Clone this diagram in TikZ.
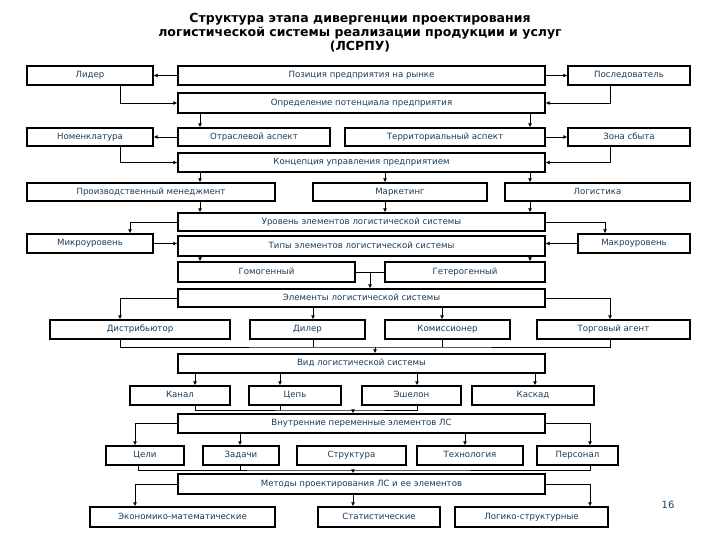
\documentclass[tikz,border=0pt]{standalone}
\usepackage{fontspec}
\setmainfont{DejaVu Sans}
\usetikzlibrary{arrows.meta}
\definecolor{txt}{RGB}{25,60,90}
\begin{document}
\begin{tikzpicture}[x=1pt,y=-1pt,
  bx/.style={draw,line width=1.3pt,fill=white,text=txt,font=\fontsize{8.6}{9}\selectfont,inner sep=0pt,text height=6.5pt,text depth=1.8pt},
  ar/.style={line width=0.8pt,-{Latex[length=4pt,width=4pt]}},
  ln/.style={line width=0.8pt}]
\useasboundingbox (0,0) rectangle (720,540);
\newcommand\bb[6]{\node[bx,minimum width=#4-#2,minimum height=#5-#3] (#1) at ({(#2+#4)/2},{(#3+#5)/2}) {#6};}
\node[font=\bfseries\fontsize{12.5}{14}\selectfont,align=center] (title) at (360,33) {Структура этапа дивергенции проектирования\\логистической системы реализации продукции и услуг\\(ЛСРПУ)};
\bb{lid}{27}{66}{153}{85}{Лидер}
\bb{poz}{178}{66}{545}{85}{Позиция предприятия на рынке}
\bb{pos}{568}{66}{690}{85}{Последователь}
\bb{opr}{178}{93}{545}{113}{Определение потенциала предприятия}
\bb{nom}{27}{128}{153}{146}{Номенклатура}
\bb{otr}{178}{128}{330}{146}{Отраслевой аспект}
\bb{ter}{345}{128}{545}{146}{Территориальный аспект}
\bb{zon}{568}{128}{690}{146}{Зона сбыта}
\bb{kon}{178}{153}{545}{172}{Концепция управления предприятием}
\bb{pro}{27}{183}{275}{201}{Производственный менеджмент}
\bb{mar}{313}{183}{487}{201}{Маркетинг}
\bb{log}{505}{183}{690}{201}{Логистика}
\bb{urv}{178}{213}{545}{231}{Уровень элементов логистической системы}
\bb{mik}{27}{234}{153}{253}{Микроуровень}
\bb{tip}{178}{236}{545}{256}{Типы элементов логистической системы}
\bb{mak}{578}{234}{690}{253}{Макроуровень}
\bb{gom}{178}{262}{355}{282}{Гомогенный}
\bb{get}{385}{262}{545}{282}{Гетерогенный}
\bb{ele}{178}{289}{545}{307}{Элементы логистической системы}
\bb{dis}{50}{320}{230}{339}{Дистрибьютор}
\bb{dil}{250}{320}{365}{339}{Дилер}
\bb{kom}{385}{320}{510}{339}{Комиссионер}
\bb{tor}{537}{320}{690}{339}{Торговый агент}
\bb{vid}{178}{354}{545}{373}{Вид логистической системы}
\bb{kan}{130}{386}{230}{405}{Канал}
\bb{cep}{249}{386}{341}{405}{Цепь}
\bb{esh}{362}{386}{461}{405}{Эшелон}
\bb{kas}{472}{386}{594}{405}{Каскад}
\bb{vnu}{178}{414}{545}{433}{Внутренние переменные элементов ЛС}
\bb{cel}{106}{446}{184}{465}{Цели}
\bb{zad}{203}{446}{279}{465}{Задачи}
\bb{str}{297}{446}{406}{465}{Структура}
\bb{teh}{417}{446}{523}{465}{Технология}
\bb{per}{537}{446}{618}{465}{Персонал}
\bb{met}{178}{474}{545}{494}{Методы проектирования ЛС и ее элементов}
\bb{eko}{90}{507}{275}{527}{Экономико-математические}
\bb{sta}{318}{507}{440}{527}{Статистические}
\bb{lgs}{455}{507}{608}{527}{Логико-структурные}
\node[text=txt,font=\fontsize{10}{12}\selectfont] (pg) at (668,505) {16};
% connectors
\draw[ar] (poz.west) -- (lid.east);
\draw[ar] (poz.east) -- (pos.west);
\draw[ar] (lid.south -| 120,0) |- (opr.west);
\draw[ar] (pos.south -| 610,0) |- (opr.east);
\draw[ar] (opr.south -| 200,0) -- (otr.north -| 200,0);
\draw[ar] (opr.south -| 530,0) -- (ter.north -| 530,0);
\draw[ar] (otr.west) -- (nom.east);
\draw[ar] (ter.east) -- (zon.west);
\draw[ar] (nom.south -| 120,0) |- (kon.west);
\draw[ar] (zon.south -| 610,0) |- (kon.east);
\draw[ar] (kon.south -| 200,0) -- (pro.north -| 200,0);
\draw[ar] (kon.south -| 385,0) -- (mar.north -| 385,0);
\draw[ar] (kon.south -| 530,0) -- (log.north -| 530,0);
\draw[ar] (pro.south -| 200,0) -- (urv.north -| 200,0);
\draw[ar] (mar.south -| 385,0) -- (urv.north -| 385,0);
\draw[ar] (log.south -| 530,0) -- (urv.north -| 530,0);
\draw[ar] (urv.west) -| (mik.north -| 130,0);
\draw[ar] (urv.east) -| (mak.north -| 605,0);
\draw[ar] (mik.east) -- (tip.west |- mik.east);
\draw[ar] (mak.west) -- (tip.east |- mak.west);
\draw[ar] (tip.south -| 200,0) -- (gom.north -| 200,0);
\draw[ar] (tip.south -| 530,0) -- (get.north -| 530,0);
\draw[ln] (gom.east) -- (get.west);
\coordinate (gg) at (370,272);
\draw[ar] (gg) -- (ele.north -| gg);
\draw[ar] (ele.west) -| (dis.north -| 120,0);
\draw[ar] (ele.south -| 313,0) -- (dil.north -| 313,0);
\draw[ar] (ele.south -| 442,0) -- (kom.north -| 442,0);
\draw[ar] (ele.east) -| (tor.north -| 610,0);
\coordinate (b1) at (375,347);
\draw[ln] (dis.south -| 120,0) |- (b1) -| (tor.south -| 610,0);
\draw[ln] (dil.south -| 313,0) -- (313,347);
\draw[ln] (kom.south -| 442,0) -- (442,347);
\draw[ar] (b1) -- (vid.north -| b1);
\draw[ar] (vid.south -| 195,0) -- (kan.north -| 195,0);
\draw[ar] (vid.south -| 280,0) -- (cep.north -| 280,0);
\draw[ar] (vid.south -| 417,0) -- (esh.north -| 417,0);
\draw[ar] (vid.south -| 535,0) -- (kas.north -| 535,0);
\coordinate (b2) at (353,410);
\draw[ln] (kan.south -| 195,0) |- (b2) -| (esh.south -| 417,0);
\draw[ln] (cep.south -| 280,0) -- (280,410);
\draw[ar] (b2) -- (vnu.north -| b2);
\draw[ar] (vnu.west) -| (cel.north -| 135,0);
\draw[ar] (vnu.south -| 240,0) -- (zad.north -| 240,0);
\draw[ar] (vnu.south -| 465,0) -- (teh.north -| 465,0);
\draw[ar] (vnu.east) -| (per.north -| 590,0);
\coordinate (b3) at (353,470);
\draw[ln] (cel.south -| 138,0) |- (b3) -| (per.south -| 590,0);
\draw[ln] (zad.south -| 240,0) -- (240,470);
\draw[ar] (b3) -- (met.north -| b3);
\draw[ar] (met.west) -| (eko.north -| 135,0);
\draw[ar] (met.south -| 353,0) -- (sta.north -| 353,0);
\draw[ar] (met.east) -| (lgs.north -| 590,0);
\end{tikzpicture}
\end{document}
